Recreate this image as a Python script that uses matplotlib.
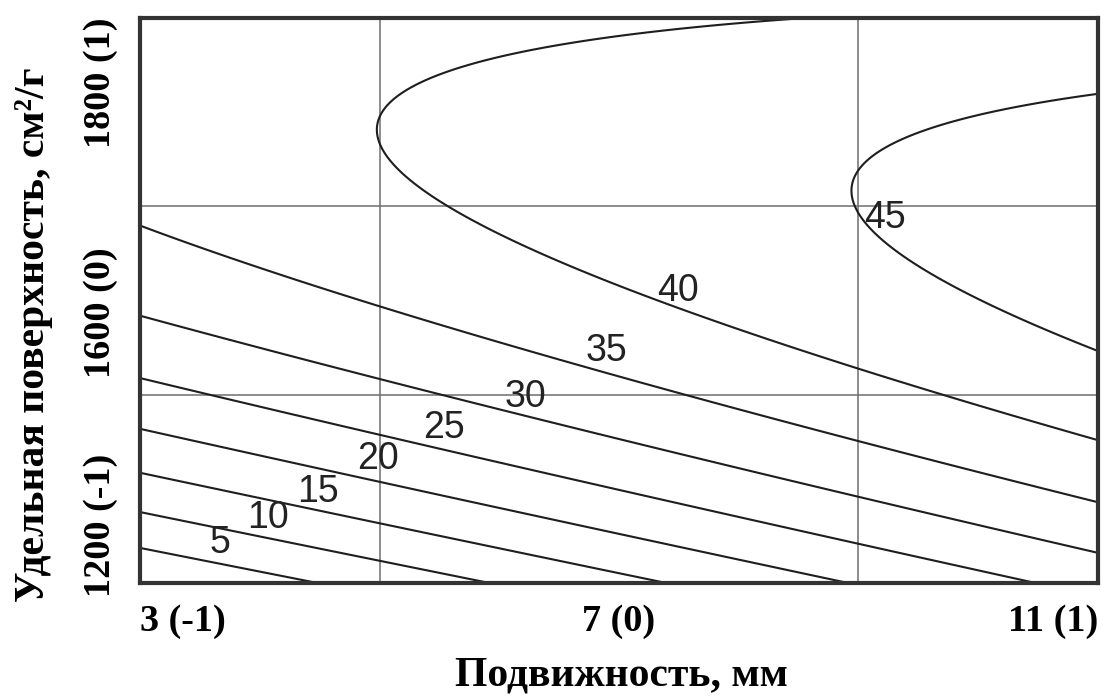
import numpy as np
import matplotlib
matplotlib.use("Agg")
import matplotlib.pyplot as plt
from matplotlib.transforms import ScaledTranslation

# regression model in coded factors x (mobility) and y (specific surface)
# response = b0 + b1*x + b2*y + b12*x*y + b11*x^2 + b22*y^2
coef_names = ["b0", "b1", "b2", "b12", "b11", "b22"]
coef_vals = [39.37, 7.83, 12.77, -5.63, -0.51, -12.92]

levels = [5, 10, 15, 20, 25, 30, 35, 40, 45]
label_x = [-0.833, -0.733, -0.628, -0.503, -0.365, -0.196, -0.027, 0.123, 0.555]
label_y = [-0.858, -0.770, -0.678, -0.561, -0.451, -0.342, -0.179, 0.034, 0.292]

xticks = [-1, 0, 1]
xlabels = ["3 (-1)", "7 (0)", "11 (1)"]
yticks = [-1, 0, 1]
ylabels = ["1200 (-1)", "1600 (0)", "1800 (1)"]

fig = plt.figure(figsize=(11.01, 6.96), dpi=100)
ax = fig.add_axes([0.1272, 0.1624, 0.8700, 0.8118])

b = dict(zip(coef_names, coef_vals))
g = np.linspace(-1, 1, 401)
xx, yy = np.meshgrid(g, g)
zz = (b["b0"] + b["b1"] * xx + b["b2"] * yy + b["b12"] * xx * yy
      + b["b11"] * xx ** 2 + b["b22"] * yy ** 2)
ax.contour(xx, yy, zz, levels=levels, colors="#1e1e1e", linewidths=1.5)

# contour labels sit just above their lines
for lev, lx, ly in zip(levels, label_x, label_y):
    ax.text(lx, ly, str(lev), ha="center", va="center", fontsize=27,
            family="Liberation Sans", color="#222222")

ax.set_xlim(-1, 1)
ax.set_ylim(-1, 1)
ax.set_xticks([-0.5, 0, 0.5], minor=True)
ax.set_yticks([-1 / 3, 1 / 3], minor=True)
ax.grid(which="minor", color="#6e6e6e", linewidth=1.1)
ax.set_axisbelow(True)

tf = dict(family="Liberation Serif", weight="bold", size=27.5)
lf = dict(family="Liberation Serif", weight="bold", size=30)
ax.set_xticks(xticks)
ax.set_xticklabels(xlabels, **tf)
ax.set_yticks(yticks)
ax.set_yticklabels(ylabels, rotation=90, **tf)
ax.tick_params(which="both", length=0)
ax.tick_params(axis="x", pad=15)
ax.tick_params(axis="y", pad=16)
xl = ax.get_xticklabels()
xl[0].set_ha("left")
xl[2].set_ha("right")
yl = ax.get_yticklabels()
yl[0].set_va("bottom")
yl[0].set_transform(yl[0].get_transform() + ScaledTranslation(0, -0.14, fig.dpi_scale_trans))
yl[1].set_va("center")
yl[1].set_transform(yl[1].get_transform() + ScaledTranslation(0, -0.12, fig.dpi_scale_trans))
yl[2].set_va("top")

for s in ax.spines.values():
    s.set_linewidth(3)
    s.set_color("#333333")

ax.set_xlabel("Подвижность, мм", **lf)
ax.set_ylabel("Удельная поверхность, см²/г", **lf)
ax.xaxis.set_label_coords(0.503, -0.163)
ax.yaxis.set_label_coords(-0.111, 0.44)
ax.yaxis.label.set_va("center")
ax.xaxis.label.set_va("center")

fig.savefig("out.png", dpi=100)
